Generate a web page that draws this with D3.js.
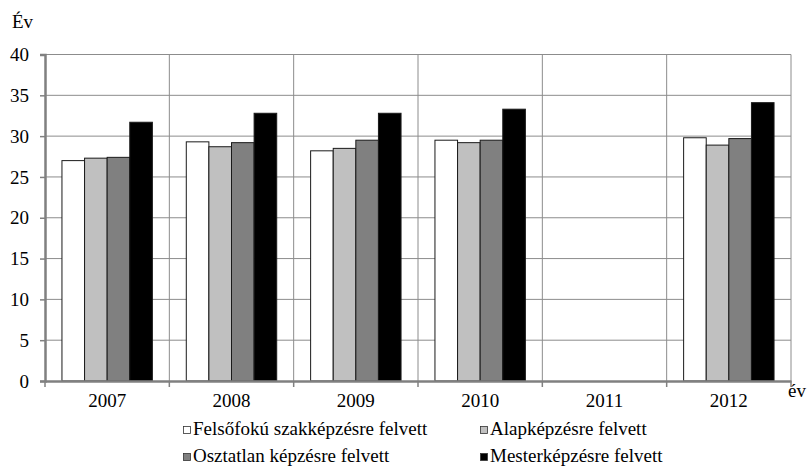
<!DOCTYPE html>
<html>
<head>
<meta charset="utf-8">
<script src="https://cdn.jsdelivr.net/npm/d3@7"></script>
<style>
  body { margin: 0; background: #fff; font-family: "Liberation Serif", serif; }
  svg text { font-family: "Liberation Serif", serif; }
</style>
</head>
<body>
<div id="chart-area"></div>
<script>
// Data (2011 has no values)
var years = ["2007", "2008", "2009", "2010", "2011", "2012"];
var seriesNames = ["Felsőfokú szakképzésre felvett", "Alapképzésre felvett",
    "Osztatlan képzésre felvett", "Mesterképzésre felvett"];
var felsofoku = [27.0, 29.3, 28.2, 29.5, null, 29.8];
var alap = [27.3, 28.7, 28.5, 29.2, null, 28.9];
var osztatlan = [27.4, 29.2, 29.5, 29.5, null, 29.7];
var mester = [31.7, 32.8, 32.8, 33.3, null, 34.1];
var yTicks = [0, 5, 10, 15, 20, 25, 30, 35, 40];

var fills = ["#ffffff", "#c0c0c0", "#808080", "#000000"];
var series = [felsofoku, alap, osztatlan, mester];

var W = 808, H = 470;
var margin = {top: 54.5, right: 17, bottom: 89, left: 45};
var width = W - margin.left - margin.right,
    height = H - margin.top - margin.bottom;

var svg = d3.select("#chart-area").append("svg")
    .attr("width", W)
    .attr("height", H);

var g = svg.append("g")
    .attr("transform", "translate(" + margin.left + "," + margin.top + ")");

var x = d3.scaleBand().domain(years).range([0, width]).padding(0);
var x1 = d3.scaleBand().domain(d3.range(series.length))
    .range([0, x.bandwidth()]).paddingOuter(0.75).paddingInner(0);
var y = d3.scaleLinear().domain([0, 40]).range([height, 0]);

// horizontal gridlines
g.selectAll(".hgrid")
    .data(yTicks.filter(function(d) { return d > 0; }))
    .enter().append("line")
    .attr("x1", 0).attr("x2", width)
    .attr("y1", function(d) { return y(d); })
    .attr("y2", function(d) { return y(d); })
    .attr("stroke", "#8c8c8c").attr("stroke-width", 1);

// vertical gridlines at category boundaries
g.selectAll(".vgrid")
    .data(years)
    .enter().append("line")
    .attr("x1", function(d) { return x(d) + x.bandwidth(); })
    .attr("x2", function(d) { return x(d) + x.bandwidth(); })
    .attr("y1", 0).attr("y2", height)
    .attr("stroke", "#8c8c8c").attr("stroke-width", 1);

// bars
var rows = [];
years.forEach(function(yr, i) {
    series.forEach(function(s, j) {
        if (s[i] != null) rows.push({year: yr, k: j, v: s[i]});
    });
});

g.selectAll(".bar")
    .data(rows)
    .enter().append("rect")
    .attr("x", function(d) { return x(d.year) + x1(d.k); })
    .attr("width", x1.bandwidth())
    .attr("y", function(d) { return y(d.v); })
    .attr("height", function(d) { return height - y(d.v); })
    .attr("fill", function(d) { return fills[d.k]; })
    .attr("stroke", "#1a1a1a")
    .attr("stroke-width", 1);

// y axis
var yAxis = g.append("g")
    .call(d3.axisLeft(y).tickValues(yTicks).tickSize(5).tickPadding(11));
yAxis.attr("font-family", null).attr("font-size", null);
yAxis.select(".domain").attr("stroke", "#808080").attr("stroke-width", 2.5);
yAxis.selectAll(".tick line").attr("stroke", "#808080").attr("stroke-width", 1.5);
yAxis.selectAll("text").style("font-size", "19px").attr("fill", "#000");

// x axis
var xAxis = g.append("g")
    .attr("transform", "translate(0," + height + ")")
    .call(d3.axisBottom(x).tickSize(0).tickPadding(13));
xAxis.attr("font-family", null).attr("font-size", null);
xAxis.select(".domain").attr("stroke", "#808080").attr("stroke-width", 2.5);
xAxis.selectAll("text").style("font-size", "19px").attr("fill", "#000");

xAxis.selectAll(".bnd")
    .data(d3.range(years.length + 1))
    .enter().append("line")
    .attr("x1", function(i) { return i * x.bandwidth(); })
    .attr("x2", function(i) { return i * x.bandwidth(); })
    .attr("y1", 0).attr("y2", 6)
    .attr("stroke", "#808080").attr("stroke-width", 1.5);

// axis titles
svg.append("text")
    .attr("x", 12).attr("y", 28)
    .style("font-size", "19px")
    .text("Év");

svg.append("text")
    .attr("x", 788).attr("y", 397)
    .style("font-size", "19px")
    .text("év");

// legend
var legendPos = [[183, 435], [480, 435], [183, 462], [480, 462]];
var legend = svg.selectAll(".legend")
    .data(seriesNames)
    .enter().append("g")
    .attr("transform", function(d, i) {
        return "translate(" + legendPos[i][0] + "," + legendPos[i][1] + ")";
    });

legend.append("rect")
    .attr("x", 0.5).attr("y", -8.5)
    .attr("width", 7).attr("height", 7)
    .attr("fill", function(d, i) { return fills[i]; })
    .attr("stroke", "#333").attr("stroke-width", 0.8);

legend.append("text")
    .attr("x", 10).attr("y", 0)
    .style("font-size", "19px")
    .text(function(d) { return d; });
</script>
</body>
</html>
